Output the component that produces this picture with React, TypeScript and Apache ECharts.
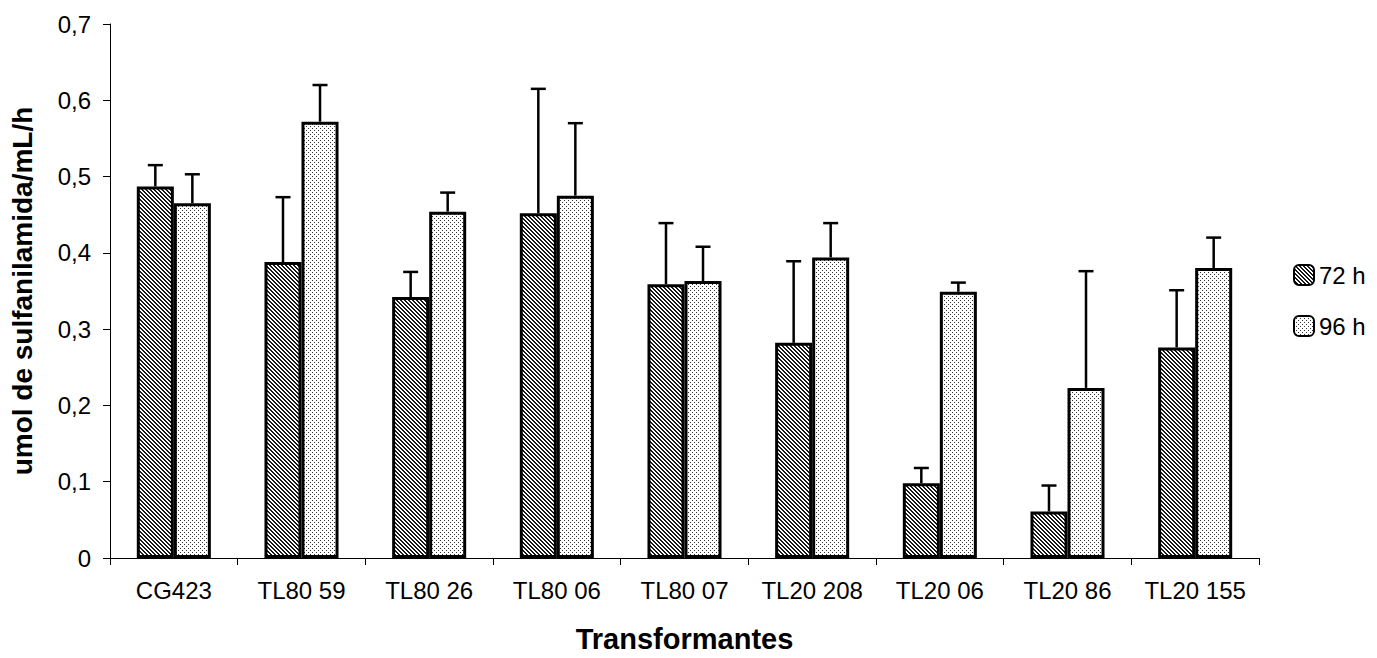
import React, { useEffect, useRef } from "react";
import * as echarts from "echarts";

const categories = ["CG423", "TL80 59", "TL80 26", "TL80 06", "TL80 07", "TL20 208", "TL20 06", "TL20 86", "TL20 155"];
const values72 = [0.487, 0.388, 0.342, 0.452, 0.359, 0.282, 0.098, 0.061, 0.276];
const errors72 = [0.028, 0.085, 0.033, 0.163, 0.080, 0.107, 0.020, 0.034, 0.075];
const values96 = [0.465, 0.572, 0.454, 0.475, 0.363, 0.394, 0.349, 0.223, 0.380];
const errors96 = [0.038, 0.048, 0.025, 0.095, 0.045, 0.045, 0.012, 0.153, 0.040];
const seriesNames = ["72 h", "96 h"];

const FONT = 'Arial, "Liberation Sans", sans-serif';

function makeHatch() {
  const c = document.createElement("canvas");
  c.width = 4;
  c.height = 4;
  const ctx = c.getContext("2d")!;
  ctx.fillStyle = "#ffffff";
  ctx.fillRect(0, 0, 4, 4);
  ctx.fillStyle = "#1a1a1a";
  for (let y = 0; y < 4; y++) {
    for (let x = 0; x < 4; x++) {
      if (((x - y + 8) % 4) < 2) ctx.fillRect(x, y, 1, 1);
    }
  }
  return c;
}

function makeDots() {
  const c = document.createElement("canvas");
  c.width = 4;
  c.height = 4;
  const ctx = c.getContext("2d")!;
  ctx.fillStyle = "#ffffff";
  ctx.fillRect(0, 0, 4, 4);
  ctx.fillStyle = "#333333";
  ctx.fillRect(0, 0, 1, 1);
  ctx.fillRect(2, 2, 1, 1);
  return c;
}

const GAP = 0.42;

export default function App() {
  const ref = useRef<HTMLDivElement>(null);
  useEffect(() => {
    if (!ref.current) return;
    const chart = echarts.init(ref.current, undefined, { renderer: "svg" });
    const hatch = { image: makeHatch(), repeat: "repeat", imageWidth: 4, imageHeight: 4 };
    const dots = { image: makeDots(), repeat: "repeat", imageWidth: 4, imageHeight: 4 };

    const errSeries = (vals: number[], errs: number[], sign: number, name: string) => ({
      type: "custom",
      name,
      z: 5,
      data: vals.map((v, i) => [i, v, v + errs[i]]),
      encode: { x: 0, y: [1, 2] },
      renderItem: (params: any, api: any) => {
        const idx = api.value(0);
        const base = api.coord([idx, api.value(1)]);
        const top = api.coord([idx, api.value(2)]);
        const band = api.size([1, 0])[0];
        const bw = (band * (1 - GAP)) / 2;
        const x = base[0] + (sign * bw) / 2;
        const style = { stroke: "#000", lineWidth: 2.5, fill: "none" };
        return {
          type: "group",
          children: [
            { type: "line", shape: { x1: x, y1: base[1], x2: x, y2: top[1] }, style },
            { type: "line", shape: { x1: x - 7.5, y1: top[1], x2: x + 7.5, y2: top[1] }, style },
          ],
        };
      },
    });

    chart.setOption({
      animation: false,
      backgroundColor: "#ffffff",
      grid: { left: 110, right: 118, top: 24, bottom: 96, containLabel: false },
      legend: {
        data: seriesNames,
        orient: "vertical",
        left: 1288,
        top: 258,
        itemWidth: 20,
        itemHeight: 20,
        itemGap: 27,
        textStyle: { fontFamily: FONT, fontSize: 24, color: "#000" },
        itemStyle: { borderColor: "#000", borderWidth: 2 },
      },
      xAxis: {
        type: "category",
        data: categories,
        name: "Transformantes",
        nameLocation: "middle",
        nameGap: 66,
        nameTextStyle: { fontFamily: FONT, fontSize: 29, fontWeight: "bold", color: "#000" },
        axisLine: { lineStyle: { color: "#000", width: 1 } },
        axisTick: { show: true, length: 7, lineStyle: { color: "#000" } },
        axisLabel: { fontFamily: FONT, fontSize: 24, color: "#000", margin: 20, interval: 0 },
      },
      yAxis: {
        type: "value",
        min: 0,
        max: 0.7,
        interval: 0.1,
        name: "umol de sulfanilamida/mL/h",
        nameLocation: "middle",
        nameGap: 74,
        nameTextStyle: { fontFamily: FONT, fontSize: 28, fontWeight: "bold", color: "#000" },
        axisLine: { show: true, lineStyle: { color: "#000", width: 1 } },
        axisTick: { show: true, length: 7, lineStyle: { color: "#000" } },
        splitLine: { show: false },
        axisLabel: {
          fontFamily: FONT,
          fontSize: 24,
          color: "#000",
          margin: 19,
          formatter: (v: number) => (v === 0 ? "0" : v.toFixed(1).replace(".", ",")),
        },
      },
      series: [
        {
          type: "bar",
          name: seriesNames[0],
          data: values72,
          barGap: "0%",
          barCategoryGap: "42%",
          itemStyle: { color: hatch, borderColor: "#000", borderWidth: 3 },
        },
        {
          type: "bar",
          name: seriesNames[1],
          data: values96,
          barGap: "0%",
          barCategoryGap: "42%",
          itemStyle: { color: dots, borderColor: "#000", borderWidth: 3 },
        },
        errSeries(values72, errors72, -1, "err72"),
        errSeries(values96, errors96, 1, "err96"),
      ],
    });
    return () => chart.dispose();
  }, []);
  return (
    <div
      ref={ref}
      style={{ position: "fixed", left: 0, top: 0, width: 1377, height: 658, background: "#fff" }}
    />
  );
}
